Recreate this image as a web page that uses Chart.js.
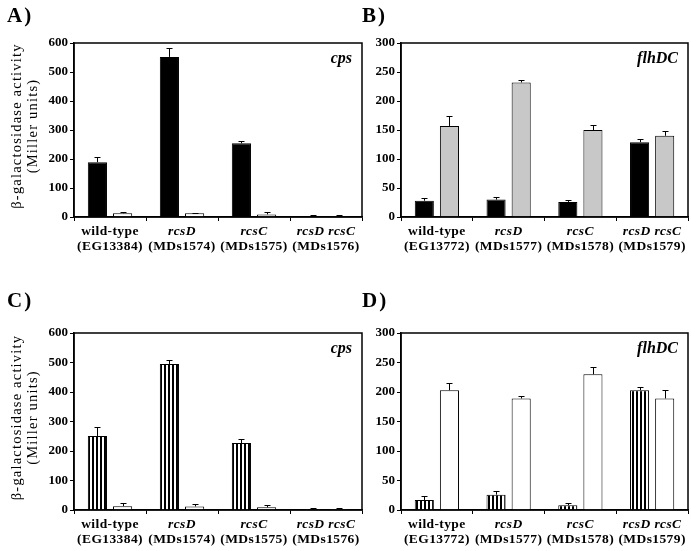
<!DOCTYPE html>
<html><head><meta charset="utf-8">
<script src="https://cdn.jsdelivr.net/npm/chart.js@4.4.0/dist/chart.umd.min.js"></script>
<style>
html,body{margin:0;padding:0;background:#fff;}
#wrap{position:relative;width:691px;height:551px;overflow:hidden;background:#fff;}
#wrap canvas{position:absolute;left:0;top:0;}
</style></head><body>
<div id="wrap">
<canvas id="cA" width="691" height="551"></canvas>
<canvas id="cB" width="691" height="551"></canvas>
<canvas id="cC" width="691" height="551"></canvas>
<canvas id="cD" width="691" height="551"></canvas>
</div>
<script>
// ---- data ----
const genotypes = ['wild-type', 'rcsD', 'rcsC', 'rcsD rcsC'];
const strainsCps = ['(EG13384)', '(MDs1574)', '(MDs1575)', '(MDs1576)'];
const strainsFlh = ['(EG13772)', '(MDs1577)', '(MDs1578)', '(MDs1579)'];
const yTicksCps = [0, 100, 200, 300, 400, 500, 600];
const yTicksFlh = [0, 50, 100, 150, 200, 250, 300];

// Panel A (cps)
const aBlack = [189, 552, 254, 3];
const aBlackErr = [17, 31, 9, 3];
const aWhite = [13, 13, 9, 3];
const aWhiteErr = [3, 2, 7, 3];
// Panel B (flhDC)
const bBlack = [28, 30, 26, 129];
const bBlackErr = [5, 4, 4, 5];
const bGrey = [157, 232, 150, 140];
const bGreyErr = [18, 5, 8, 8];
// Panel C (cps)
const cStriped = [251, 495, 227, 3];
const cStripedErr = [30, 14, 12, 3];
const cWhite = [13, 12, 9, 3];
const cWhiteErr = [11, 8, 9, 3];
// Panel D (flhDC)
const dStriped = [17, 26, 8, 203];
const dStripedErr = [6, 6, 4, 6];
const dWhite = [203, 189, 230, 189];
const dWhiteErr = [13, 5, 13, 14];

const SERIF = '"Liberation Serif", "Times New Roman", serif';

function stripePattern(ctx) {
  const c = document.createElement('canvas');
  c.width = 4; c.height = 4;
  const x = c.getContext('2d');
  x.fillStyle = '#fff'; x.fillRect(0, 0, 4, 4);
  x.fillStyle = '#000'; x.fillRect(0, 0, 2, 4);
  return ctx.createPattern(c, 'repeat');
}

function setLS(ctx, v) { try { ctx.letterSpacing = v; } catch (e) {} }

const panelPlugin = {
  id: 'panel',
  afterDatasetsDraw(chart, args, o) {
    const ctx = chart.ctx, ys = chart.scales.y;
    ctx.save();
    ctx.strokeStyle = '#000';
    ctx.lineWidth = 1;
    chart.data.datasets.forEach((ds, i) => {
      const meta = chart.getDatasetMeta(i);
      const errs = o.errors[i];
      meta.data.forEach((bar, j) => {
        const e = errs[j];
        if (!e) return;
        const v = ds.data[j];
        const y0 = ys.getPixelForValue(v);
        const y1 = Math.round(ys.getPixelForValue(v + e)) + 0.5;
        const x = Math.round(bar.x) + 0.5;
        ctx.beginPath();
        ctx.moveTo(x, y0); ctx.lineTo(x, y1);
        ctx.moveTo(x - 3, y1); ctx.lineTo(x + 3, y1);
        ctx.stroke();
      });
    });
    ctx.restore();
  },
  afterDraw(chart, args, o) {
    const ctx = chart.ctx, a = chart.chartArea, xs = chart.scales.x;
    ctx.save();
    ctx.strokeStyle = '#000';
    ctx.lineWidth = 1.5;
    ctx.strokeRect(a.left, a.top, a.right - a.left, a.bottom - a.top);
    ctx.fillStyle = '#000';
    ctx.textAlign = 'center';
    ctx.textBaseline = 'middle';
    setLS(ctx, '0.4px');
    o.line1.forEach((t, i) => {
      const x = xs.getPixelForValue(i);
      ctx.font = (i === 0 ? 'bold ' : 'italic bold ') + '13.5px ' + SERIF;
      ctx.fillText(t, x, a.bottom + 15);
      ctx.font = 'bold 13.5px ' + SERIF;
      ctx.fillText(o.line2[i], x, a.bottom + 30);
    });
    // panel letter
    setLS(ctx, '2px');
    ctx.textAlign = 'left';
    ctx.textBaseline = 'alphabetic';
    ctx.font = 'bold 21px ' + SERIF;
    ctx.fillText(o.letter, o.letterX, o.letterY);
    // inset gene label
    setLS(ctx, '0px');
    ctx.textAlign = 'right';
    ctx.font = 'italic bold 16px ' + SERIF;
    ctx.fillText(o.gene, a.right - 10, a.top + 20);
    // y title
    if (o.yTitle) {
      setLS(ctx, '1.2px');
      ctx.font = '14.5px ' + SERIF;
      ctx.textAlign = 'center';
      ctx.textBaseline = 'middle';
      const cy = (a.top + a.bottom) / 2 - 4;
      ctx.translate(17, cy);
      ctx.rotate(-Math.PI / 2);
      ctx.fillText(o.yTitle[0], 0, 0);
      ctx.fillText(o.yTitle[1], 0, 16);
    }
    ctx.restore();
  }
};

function makeChart(id, cfg) {
  const ctx = document.getElementById(id).getContext('2d');
  const ds = cfg.series.map((s, i) => ({
    data: s.data,
    backgroundColor: s.fill === 'stripes' ? stripePattern(ctx) : s.fill,
    borderColor: '#000',
    borderWidth: 1,
    categoryPercentage: 0.7,
    barPercentage: 0.76
  }));
  return new Chart(ctx, {
    type: 'bar',
    data: { labels: genotypes, datasets: ds },
    options: {
      responsive: false,
      animation: false,
      events: [],
      layout: { padding: cfg.padding },
      plugins: {
        legend: { display: false },
        tooltip: { enabled: false },
        panel: {
          errors: cfg.series.map(s => s.err),
          line1: genotypes,
          line2: cfg.strains,
          letter: cfg.letter, letterX: cfg.letterX, letterY: cfg.letterY,
          gene: cfg.gene,
          yTitle: cfg.yTitle
        }
      },
      scales: {
        x: {
          afterFit: s => { s.height = 0; },
          ticks: { display: false },
          grid: { drawOnChartArea: false, drawTicks: true, tickLength: 4, color: '#000', lineWidth: 1, offset: true },
          border: { display: true, color: '#000', width: 1.5 }
        },
        y: {
          min: 0, max: cfg.yTicks[cfg.yTicks.length - 1],
          afterBuildTicks: s => { s.ticks = cfg.yTicks.map(v => ({ value: v })); },
          afterFit: s => { s.width = cfg.yWidth; },
          ticks: { color: '#000', padding: 2, font: { family: SERIF, size: 13, weight: 'bold' } },
          grid: { drawOnChartArea: false, drawTicks: true, tickLength: 4, color: '#000', lineWidth: 1 },
          border: { display: true, color: '#000', width: 1.5 }
        }
      }
    },
    plugins: [panelPlugin]
  });
}

const yTitle = ['\u03B2-galactosidase activity', '(Miller units)'];

makeChart('cA', {
  series: [{ data: aBlack, err: aBlackErr, fill: '#000' }, { data: aWhite, err: aWhiteErr, fill: '#fff' }],
  strains: strainsCps, yTicks: yTicksCps, gene: 'cps', letter: 'A)', letterX: 7, letterY: 22,
  yTitle: yTitle, yWidth: 74,
  padding: { left: 0, top: 43, right: 691 - 362, bottom: 551 - 217 }
});
makeChart('cB', {
  series: [{ data: bBlack, err: bBlackErr, fill: '#000' }, { data: bGrey, err: bGreyErr, fill: '#c8c8c8' }],
  strains: strainsFlh, yTicks: yTicksFlh, gene: 'flhDC', letter: 'B)', letterX: 362, letterY: 22,
  yTitle: null, yWidth: 56,
  padding: { left: 345, top: 43, right: 691 - 688, bottom: 551 - 217 }
});
makeChart('cC', {
  series: [{ data: cStriped, err: cStripedErr, fill: 'stripes' }, { data: cWhite, err: cWhiteErr, fill: '#fff' }],
  strains: strainsCps, yTicks: yTicksCps, gene: 'cps', letter: 'C)', letterX: 7, letterY: 307,
  yTitle: yTitle, yWidth: 74,
  padding: { left: 0, top: 333, right: 691 - 362, bottom: 551 - 510 }
});
makeChart('cD', {
  series: [{ data: dStriped, err: dStripedErr, fill: 'stripes' }, { data: dWhite, err: dWhiteErr, fill: '#fff' }],
  strains: strainsFlh, yTicks: yTicksFlh, gene: 'flhDC', letter: 'D)', letterX: 362, letterY: 307,
  yTitle: null, yWidth: 56,
  padding: { left: 345, top: 333, right: 691 - 688, bottom: 551 - 510 }
});
</script>
</body></html>
